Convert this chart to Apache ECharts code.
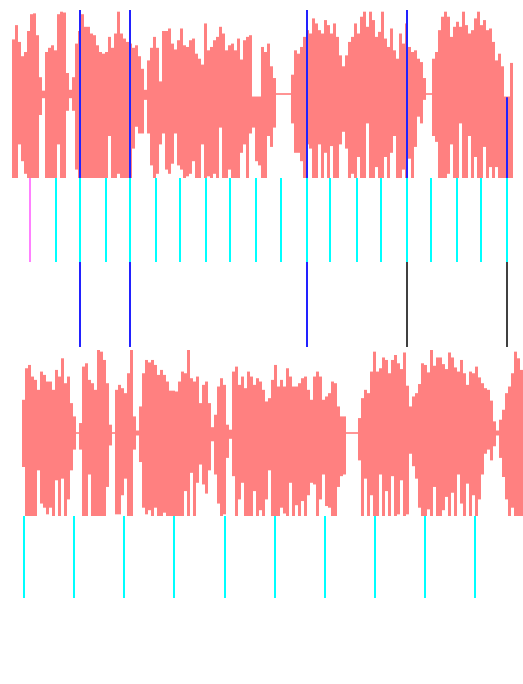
<!DOCTYPE html>
<html>
<head>
<meta charset="utf-8">
<script src="https://cdn.jsdelivr.net/npm/echarts/dist/echarts.min.js"></script>
<style>html,body{margin:0;padding:0;background:#fff;}#c{width:523px;height:684px;}</style>
</head>
<body>
<div id="c"></div>
<script>
// ---- data (amplitude in percent of full scale, time in seconds) ----
const colSec = 0.12;

const upperHigh = [
 65,82,62,45,50,75,95,96,70,20,
 4,50,55,58,52,95,98,97,25,5,
 20,60,75,95,80,80,72,70,58,50,
 48,50,68,55,72,98,72,66,62,60,
 55,58,45,30,5,40,55,68,55,15,
 75,75,78,60,53,64,78,58,56,64,
 66,48,42,35,84,52,56,64,68,80,
 72,52,58,60,52,66,41,64,68,70,
 -3,-3,-3,56,50,60,33,19,1,1,
 1,1,1,23,52,48,56,68,76,72,
 90,84,76,72,88,82,72,84,68,46,
 33,46,62,68,84,72,92,98,80,98,
 88,68,74,98,66,56,78,52,42,72,
 60,84,56,50,52,42,38,19,1,1,
 42,50,76,92,98,92,68,80,86,80,
 98,82,72,76,90,98,82,88,76,78,
 62,40,48,33,-3,-3,37
];
const upperLow = [
 -100,-100,-60,-80,-95,-100,-100,-100,-100,-25,
 -5,-100,-100,-100,-100,-60,-100,-100,-20,-5,
 -20,-90,-100,-100,-100,-100,-100,-100,-100,-100,
 -100,-100,-50,-100,-100,-95,-100,-100,-100,-100,
 -65,-39,-47,-47,-7,-47,-85,-100,-95,-60,
 -47,-90,-95,-83,-47,-85,-90,-100,-98,-95,
 -80,-100,-100,-60,-100,-98,-100,-95,-100,-40,
 -100,-100,-90,-100,-100,-100,-70,-60,-100,-47,
 -40,-80,-85,-100,-100,-50,-63,-40,-1,-1,
 -1,-1,-1,-35,-70,-70,-80,-100,-60,-65,
 -100,-100,-60,-100,-70,-100,-62,-100,-100,-60,
 -45,-65,-100,-95,-100,-75,-100,-100,-35,-100,
 -100,-87,-100,-100,-75,-100,-70,-50,-100,-100,
 -90,-100,-77,-100,-63,-27,-35,-7,-1,-1,
 -50,-57,-100,-100,-100,-95,-60,-100,-100,-35,
 -100,-100,-50,-100,-75,-100,-100,-63,-100,-87,
 -100,-87,-100,-100,-100,-100,-100
];

const lowerHigh = [
 40,78,82,68,64,52,74,70,62,62,
 52,76,68,90,60,68,36,20,1,12,
 80,84,64,60,52,100,98,88,60,10,
 1,52,58,54,48,72,100,20,3,32,
 72,88,85,88,82,70,76,70,62,51,
 51,50,62,74,72,100,66,62,68,36,
 58,62,36,7,22,56,66,58,10,4,
 74,80,58,68,54,74,68,58,66,62,
 52,38,42,64,82,56,64,56,78,68,
 56,56,60,66,68,52,40,68,74,68,
 40,44,48,62,60,32,20,20,1,1,
 1,1,18,42,52,48,74,98,74,78,
 91,88,72,88,94,84,77,97,57,32,
 44,48,59,84,82,73,100,81,91,91,
 83,77,97,91,79,74,88,72,58,74,
 72,80,67,60,54,52,39,14,3,16,
 28,48,56,72,98,90,76
];
const lowerLow = [
 -41,-100,-100,-100,-100,-45,-85,-90,-98,-90,
 -100,-57,-100,-55,-100,-80,-45,-20,-1,-20,
 -100,-100,-50,-100,-100,-100,-100,-100,-65,-15,
 -1,-98,-98,-75,-55,-100,-100,-20,-3,-35,
 -90,-98,-93,-100,-90,-100,-100,-96,-100,-100,
 -100,-100,-100,-100,-70,-100,-48,-100,-60,-38,
 -62,-73,-45,-10,-50,-85,-100,-98,-30,-7,
 -52,-100,-80,-60,-100,-100,-100,-70,-100,-93,
 -100,-80,-45,-100,-100,-100,-90,-97,-100,-60,
 -100,-87,-100,-82,-100,-75,-60,-62,-100,-80,
 -50,-88,-90,-100,-100,-65,-52,-50,-1,-1,
 -1,-1,-33,-100,-55,-100,-75,-100,-100,-50,
 -100,-70,-100,-52,-100,-98,-57,-100,-98,-25,
 -40,-55,-90,-100,-100,-92,-100,-65,-100,-100,
 -93,-77,-100,-72,-100,-50,-85,-100,-61,-100,
 -75,-100,-80,-50,-25,-20,-33,-16,-3,-30,
 -53,-80,-100,-90,-100,-100,-100
];

const beatsUpper = [0.72,1.76,2.72,3.76,4.72,5.76,6.72,7.76,8.72,9.76,
                    10.75,11.79,12.73,13.79,14.75,15.79,16.75,17.79,18.75,19.79];
const beatsLower = [0.07,2.08,4.09,6.09,8.11,10.11,12.11,14.12,16.12,18.13];

const downbeats = [2.72,4.72,11.79,15.79,19.79];
const downbeatReach = [100,100,100,100,-4];   // upper end of marker inside top waveform
const downbeatKind = [1,1,1,0,0];             // 1 = estimated, 0 = other

// ---- styles ----
const WAVE = '#ff8080', CYAN = '#00ffff', PINK = '#ff80ff', BLUE = '#2222ff', GRAY = '#404040';
const T = upperHigh.length * colSec;

function waveRender(params, api) {
  const t = api.value(0), lo = api.value(1), hi = api.value(2);
  const p1 = api.coord([t, hi]);
  const p2 = api.coord([t + colSec, lo]);
  return {type:'rect', shape:{x:p1[0], y:p1[1], width:p2[0]-p1[0], height:Math.max(p2[1]-p1[1],1)},
          style:{fill:WAVE}};
}
function lineRender(colorFn) {
  return function (params, api) {
    const t = api.value(0), lo = api.value(1), hi = api.value(2), k = api.value(3);
    const a = api.coord([t, hi]), b = api.coord([t, lo]);
    const x = Math.round(a[0]) - 1;
    return {type:'rect', shape:{x:x, y:a[1], width:2, height:b[1]-a[1]},
            style:{fill:colorFn(k, params.dataIndex)}};
  };
}

const grids = [
  {left:12, top:10,  width:501, height:168},
  {left:12, top:178, width:501, height:84},
  {left:12, top:262, width:501, height:85},
  {left:22, top:350, width:501, height:166},
  {left:22, top:516, width:501, height:82}
];
const yRanges = [[-100,100],[0,1],[0,1],[-100,100],[0,1]];

const option = {
  animation:false,
  backgroundColor:'#ffffff',
  grid: grids,
  xAxis: grids.map((g,k)=>({gridIndex:k, type:'value', min:0, max:T, show:false})),
  yAxis: yRanges.map((r,k)=>({gridIndex:k, type:'value', min:r[0], max:r[1], show:false})),
  series: [
    {type:'custom', xAxisIndex:0, yAxisIndex:0, silent:true,
     data: upperHigh.map((h,i)=>[i*colSec, upperLow[i], h]), renderItem: waveRender},
    {type:'custom', xAxisIndex:0, yAxisIndex:0, silent:true,
     data: downbeats.map((t,k)=>[t, -100, downbeatReach[k], downbeatKind[k]]),
     renderItem: lineRender(()=>BLUE)},
    {type:'custom', xAxisIndex:1, yAxisIndex:1, silent:true,
     data: beatsUpper.map((t,k)=>[t, 0, 1, 0]),
     renderItem: lineRender((k,i)=> i===0 ? PINK : CYAN)},
    {type:'custom', xAxisIndex:2, yAxisIndex:2, silent:true,
     data: downbeats.map((t,k)=>[t, 0, 1, downbeatKind[k]]),
     renderItem: lineRender((k)=> k===1 ? BLUE : GRAY)},
    {type:'custom', xAxisIndex:3, yAxisIndex:3, silent:true,
     data: lowerHigh.map((h,i)=>[i*colSec, lowerLow[i], h]), renderItem: waveRender},
    {type:'custom', xAxisIndex:4, yAxisIndex:4, silent:true,
     data: beatsLower.map((t,k)=>[t, 0, 1, 0]),
     renderItem: lineRender(()=>CYAN)}
  ]
};
const chart = echarts.init(document.getElementById('c'), null, {renderer:'canvas'});
chart.setOption(option);
</script>
</body>
</html>
